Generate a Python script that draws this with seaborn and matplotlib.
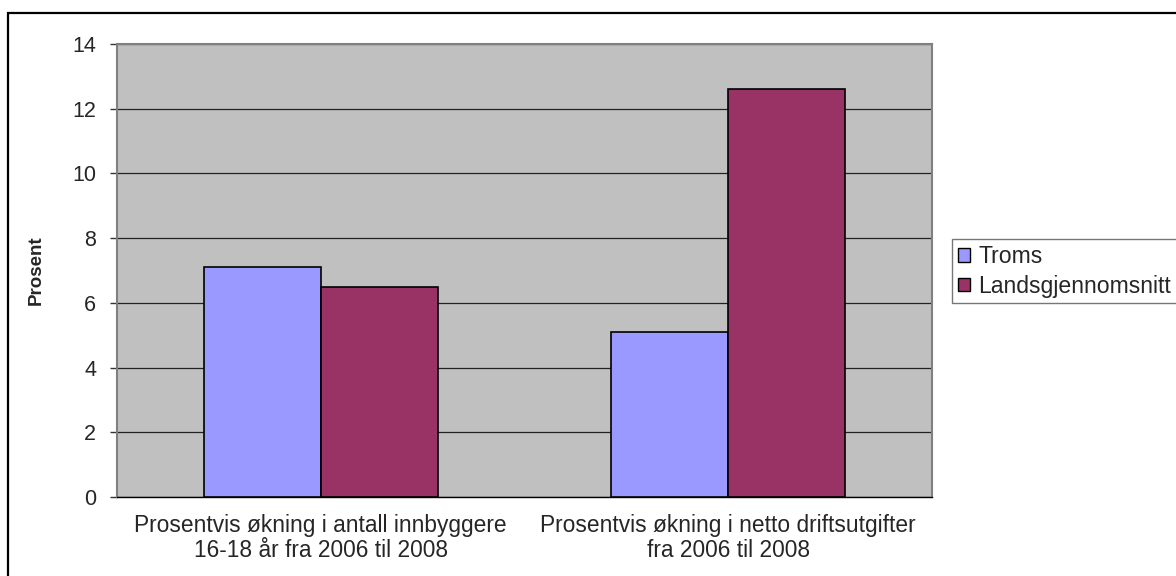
import matplotlib
matplotlib.use("Agg")
import matplotlib.pyplot as plt
import matplotlib.patches as mpatches
import seaborn as sns
import pandas as pd

categories = ["Prosentvis økning i antall innbyggere\n16-18 år fra 2006 til 2008",
              "Prosentvis økning i netto driftsutgifter\nfra 2006 til 2008"]
series_names = ["Troms", "Landsgjennomsnitt"]
troms = [7.1, 5.1]
lands = [6.5, 12.6]
colors = ["#9999FF", "#993366"]
y_ticks = [0, 2, 4, 6, 8, 10, 12, 14]

df = pd.DataFrame({
    "kategori": categories * 2,
    "serie": [series_names[0]] * 2 + [series_names[1]] * 2,
    "verdi": troms + lands,
})

sns.set_theme(style="white")
plt.rcParams["font.family"] = ["Liberation Sans", "DejaVu Sans"]

fig = plt.figure(figsize=(11.76, 5.76), dpi=100)
ax = fig.add_axes([117/1176, 1-497/576, (932-117)/1176, (497-44)/576])
ax.set_facecolor("#C0C0C0")

sns.barplot(data=df, x="kategori", y="verdi", hue="serie", order=categories,
            hue_order=series_names, palette=colors, saturation=1, width=0.574, gap=0,
            edgecolor="black", linewidth=1.2, ax=ax, legend=False, zorder=3)

ax.set_ylim(0, 14)
ax.set_xlim(-0.5, 1.5)
ax.set_yticks(y_ticks)
ax.set_yticklabels([str(v) for v in y_ticks], fontsize=15.5)
ax.yaxis.grid(True, color="#222222", linewidth=0.9, zorder=1)
ax.set_axisbelow(True)

ax.set_xticks([0, 1])
ax.set_xticklabels(categories, fontsize=16.4, linespacing=1.12)
ax.set_xticks([-0.5, 0.5, 1.5], minor=True)
ax.tick_params(axis="x", which="major", length=0, pad=12)
ax.tick_params(axis="x", which="minor", length=5, width=1, color="black", direction="out")
ax.tick_params(axis="y", length=5, width=1, color="#333333", direction="out", pad=10, left=True)

ax.set_xlabel("")
ax.set_ylabel("Prosent", fontsize=13.5, fontweight="bold", labelpad=20)

for s in ["left", "right", "top"]:
    ax.spines[s].set_color("#808080")
    ax.spines[s].set_linewidth(1.5)
ax.spines["bottom"].set_color("black")
ax.spines["bottom"].set_linewidth(1.0)

handles = [mpatches.Patch(facecolor=c, edgecolor="black", linewidth=1.0, label=n)
           for c, n in zip(colors, series_names)]
leg = fig.legend(handles=handles, loc="upper left", bbox_to_anchor=(952/1176, 1-239/576),
                 fontsize=16.6, frameon=True, fancybox=False, edgecolor="#555555",
                 handlelength=0.55, handleheight=0.55, handletextpad=0.35,
                 borderpad=0.25, labelspacing=0.3, borderaxespad=0)
leg.get_frame().set_linewidth(1.0)

border = mpatches.Rectangle((8/1176, -0.5), 2.0, 0.5 + (1-13/576), transform=fig.transFigure,
                            fill=False, edgecolor="black", linewidth=1.6, clip_on=False)
fig.patches.append(border)

fig.savefig("out.png", dpi=100, facecolor="white")
